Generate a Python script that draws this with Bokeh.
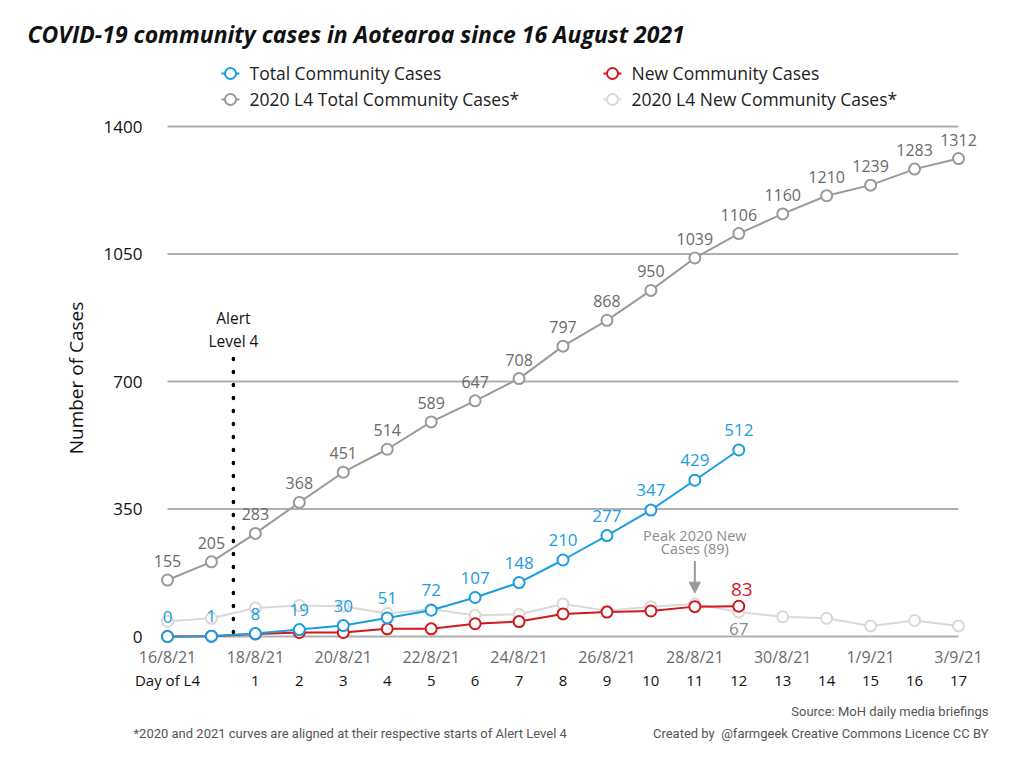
from bokeh.plotting import figure
from bokeh.layouts import column
from bokeh.models import (ColumnDataSource, FixedTicker, LinearAxis, Arrow,
                          NormalHead, Range1d)
from bokeh.core.properties import value
from bokeh.embed import file_html
from bokeh.resources import INLINE

# ---------------- data ----------------
dates = ["16/8/21", "17/8/21", "18/8/21", "19/8/21", "20/8/21", "21/8/21", "22/8/21",
         "23/8/21", "24/8/21", "25/8/21", "26/8/21", "27/8/21", "28/8/21", "29/8/21",
         "30/8/21", "31/8/21", "1/9/21", "2/9/21", "3/9/21"]
day_of_l4 = ["Day of L4", "", "1", "2", "3", "4", "5", "6", "7", "8", "9", "10", "11",
             "12", "13", "14", "15", "16", "17"]
total_2021 = [0, 1, 8, 19, 30, 51, 72, 107, 148, 210, 277, 347, 429, 512]
new_2021 = [0, 1, 7, 11, 11, 21, 21, 35, 41, 62, 67, 70, 82, 83]
total_2020 = [155, 205, 283, 368, 451, 514, 589, 647, 708, 797, 868, 950, 1039, 1106,
              1160, 1210, 1239, 1283, 1312]
new_2020 = [42, 50, 78, 85, 83, 63, 75, 58, 61, 89, 71, 82, 89, 67, 54, 50, 29, 44, 29]
y_ticks = [0, 350, 700, 1050, 1400]
alert_level_4_start = 1.5
peak_2020_index = 12
peak_2020_value = 89

BLUE = "#1b9ddf"
RED = "#d0181f"
GREY = "#9a9a9a"
GREY_TXT = "#6a6a6a"
LGREY = "#d9d9d9"
FONT = "Open Sans"
W = 1005

# layout geometry (page px)
TOP = 110      # main figure top
F_BOTTOM = 645 # main frame bottom
M_BOTTOM = 695 # main figure bottom
PAGE_H = 750

DX = (958 - 167) / 18.0
DY = (636 - 126) / 1400.0
def X(px):
    return (px - 167) / DX
def Y(py):
    return (636 - py) / DY

def blank(fig):
    fig.outline_line_color = None
    fig.background_fill_color = "white"
    fig.border_fill_color = "white"
    fig.xgrid.visible = False
    fig.ygrid.visible = False
    try:
        fig.frame_align = False
    except Exception:
        pass

# ---------------- header: title + legend ----------------
head = figure(width=W, height=TOP, output_backend="svg", toolbar_location=None,
              x_range=Range1d(0, W), y_range=Range1d(TOP, 0), min_border=0,
              x_axis_location=None, y_axis_location=None)
blank(head)
head.text(x=[27], y=[33], text=["COVID-19 community cases in Aotearoa since 16 August 2021"],
          text_align="left", text_baseline="middle", text_font=value(FONT),
          text_font_style="bold italic", text_font_size="23px", text_color="#111111")
legend_items = [("Total Community Cases", BLUE, 230, 73),
                ("New Community Cases", RED, 612, 73),
                ("2020 L4 Total Community Cases*", GREY, 230, 99),
                ("2020 L4 New Community Cases*", LGREY, 612, 99)]
for label, color, px, py in legend_items:
    head.segment(x0=[px - 9], x1=[px + 9], y0=[py], y1=[py], line_color=color,
                 line_width=2)
    head.scatter(x=[px], y=[py], size=11, fill_color="white", line_color=color,
                 line_width=2)
    head.text(x=[px + 19], y=[py - 1], text=[label], text_align="left",
              text_baseline="middle", text_font=value(FONT), text_font_size="17.5px",
              text_color="#222222")

# ---------------- main chart ----------------
p = figure(width=W, height=M_BOTTOM - TOP, output_backend="svg", toolbar_location=None,
           x_range=Range1d(X(150), X(1000)), y_range=Range1d(Y(F_BOTTOM), Y(TOP)),
           min_border_left=150, min_border_right=W - 1000, min_border_top=0,
           min_border_bottom=M_BOTTOM - F_BOTTOM,
           x_axis_location=None, y_axis_location=None)
blank(p)

yaxis = LinearAxis(ticker=FixedTicker(ticks=y_ticks), axis_line_color=None,
                   major_tick_line_color=None, minor_tick_line_color=None,
                   major_tick_out=0, major_tick_in=0, minor_tick_out=0,
                   major_label_standoff=8, major_label_text_font_size="17px",
                   major_label_text_color="#111111", major_label_text_font=FONT,
                   axis_label="Number of Cases", axis_label_text_font=FONT,
                   axis_label_text_font_style="normal", axis_label_text_font_size="19px",
                   axis_label_text_color="#111111", axis_label_standoff=12)
p.add_layout(yaxis, "left")

date_ticks = list(range(0, len(dates), 2))
xaxis = LinearAxis(ticker=FixedTicker(ticks=date_ticks),
                   major_label_overrides={i: dates[i] for i in date_ticks},
                   axis_line_color=None, major_tick_line_color=None,
                   minor_tick_line_color=None, major_tick_out=0, major_tick_in=0,
                   minor_tick_out=0, major_label_standoff=0,
                   major_label_text_font_size="16px", major_label_text_color=GREY_TXT,
                   major_label_text_font=FONT)
p.add_layout(xaxis, "below")

day_ticks = [i for i in range(len(day_of_l4)) if day_of_l4[i]]
dayaxis = LinearAxis(ticker=FixedTicker(ticks=day_ticks),
                     major_label_overrides={i: day_of_l4[i] for i in day_ticks},
                     axis_line_color=None, major_tick_line_color=None,
                     minor_tick_line_color=None, major_tick_out=0, major_tick_in=0,
                     minor_tick_out=0, major_label_standoff=-1,
                     major_label_text_font_size="15px", major_label_text_color="#111111",
                     major_label_text_font=FONT)
p.add_layout(dayaxis, "below")

n = len(dates)
p.segment(x0=[0] * len(y_ticks), x1=[n - 1] * len(y_ticks), y0=y_ticks, y1=y_ticks,
          line_color="#b0b0b0", line_width=2)

# alert level 4 line
p.segment(x0=[alert_level_4_start], x1=[alert_level_4_start], y0=[Y(632)], y1=[Y(352)],
          line_color="black", line_width=3.5, line_dash="1 12", line_cap="round")
for txt, py in [("Alert", 317), ("Level 4", 340)]:
    p.text(x=[alert_level_4_start], y=[Y(py)], text=[txt], text_align="center",
           text_baseline="middle", text_font=value(FONT), text_font_size="15.5px",
           text_color="#111111")

s20 = ColumnDataSource(dict(x=list(range(len(total_2020))), total=total_2020,
                            new=new_2020, tl=[str(v) for v in total_2020]))
s21 = ColumnDataSource(dict(x=list(range(len(total_2021))), total=total_2021,
                            new=new_2021, tl=[str(v) for v in total_2021]))

def series(src, col, color):
    p.line("x", col, source=src, line_color=color, line_width=2)
    p.scatter("x", col, source=src, size=11, fill_color="white", line_color=color,
              line_width=2)

series(s20, "new", LGREY)
series(s20, "total", GREY)
series(s21, "new", RED)
series(s21, "total", BLUE)

p.text("x", "total", text="tl", source=s20, text_align="center", text_baseline="middle",
       y_offset=-19, text_font=value(FONT), text_font_size="16px", text_color=GREY_TXT)
p.text("x", "total", text="tl", source=s21, text_align="center", text_baseline="middle",
       y_offset=-20, text_font=value(FONT), text_font_size="17px", text_color=BLUE)
last = len(new_2021) - 1
p.text(x=[last], y=[new_2021[last]], text=[str(new_2021[last])], text_align="center",
       x_offset=3, y_offset=-17, text_baseline="middle", text_font=value(FONT),
       text_font_size="19px", text_color=RED)
p.text(x=[last], y=[new_2020[last]], text=[str(new_2020[last])], text_align="center",
       y_offset=17, text_baseline="middle", text_font=value(FONT),
       text_font_size="17px", text_color="#8a8a8a")

p.add_layout(Arrow(end=NormalHead(size=11, fill_color=GREY, line_color=GREY),
                   x_start=peak_2020_index, y_start=peak_2020_value + 118,
                   x_end=peak_2020_index, y_end=peak_2020_value + 30,
                   line_color=GREY, line_width=2))
for txt, py in [("Peak 2020 New", 535), ("Cases (89)", 548)]:
    p.text(x=[peak_2020_index], y=[Y(py)], text=[txt], text_align="center",
           text_baseline="middle", text_font=value(FONT), text_font_size="14.5px",
           text_color="#8c8c8c")

# ---------------- footer ----------------
foot = figure(width=W, height=PAGE_H - M_BOTTOM, output_backend="svg",
              toolbar_location=None, x_range=Range1d(0, W),
              y_range=Range1d(PAGE_H, M_BOTTOM), min_border=0,
              x_axis_location=None, y_axis_location=None)
blank(foot)
foot_texts = [("Source: MoH daily media briefings", 988, 711, "right"),
              ("*2020 and 2021 curves are aligned at their respective starts of Alert Level 4",
               133, 733, "left"),
              ("Created by\u00a0 @farmgeek Creative Commons Licence CC BY", 988, 733, "right")]
for txt, px, py, al in foot_texts:
    foot.text(x=[px], y=[py], text=[txt], text_align=al, text_baseline="middle",
              text_font=value("Roboto"), text_font_size="13px", text_color="#555555")

layout = column(head, p, foot, spacing=0)
open("out.html", "w").write(file_html(layout, INLINE))
